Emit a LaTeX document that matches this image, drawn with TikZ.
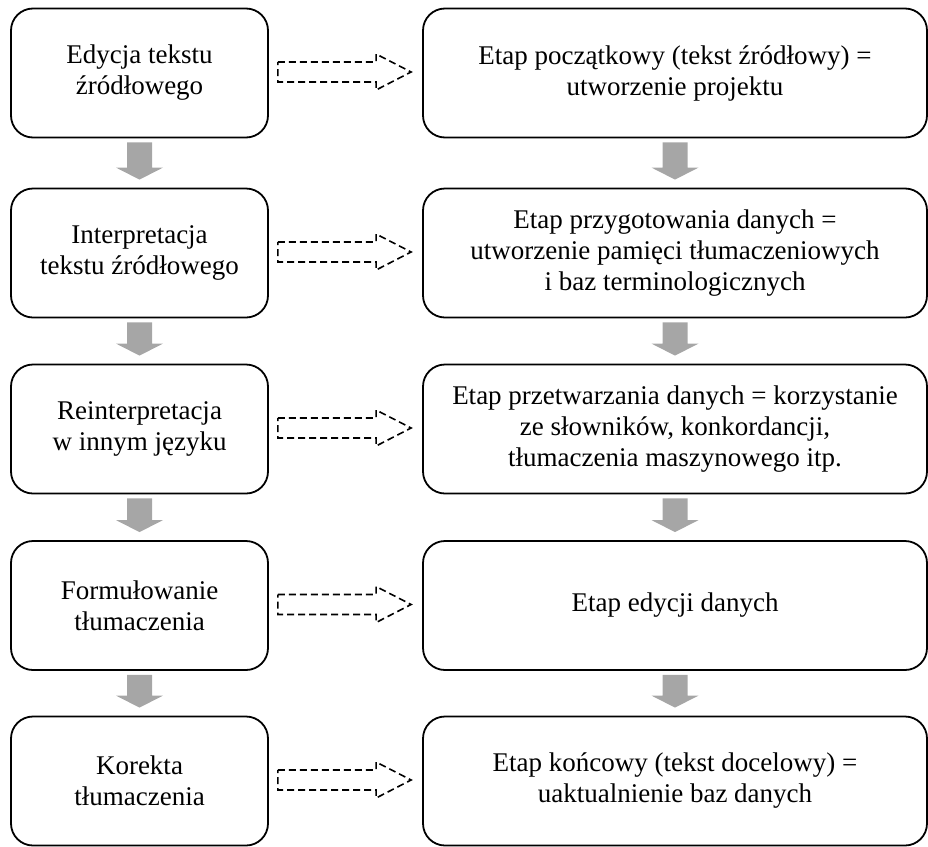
\documentclass[tikz,border=0pt]{standalone}
\usepackage{fontspec}
\setmainfont{Liberation Serif}
\usetikzlibrary{calc}
\definecolor{arrowgray}{HTML}{A6A6A6}
\tikzset{
  stagebox/.style={draw=black, line width=1.8pt, rounded corners=22pt, align=center,
    minimum height=129pt, inner sep=0pt, font=\fontsize{27}{31}\selectfont},
  leftbox/.style={stagebox, minimum width=257pt},
  rightbox/.style={stagebox, minimum width=504pt},
  grayarr/.style={fill=arrowgray, draw=none},
  dasharr/.style={draw=black, line width=1.6pt, dash pattern=on 7pt off 4pt}
}
\newcommand{\grayarrow}[2]{%
  \fill[grayarr] ($(#1.south)+(-12.5,4)$) -- ($(#1.south)+(12.5,4)$) --
    ($(#2.north)+(12.5,-20)$) -- ($(#2.north)+(23.5,-20)$) -- ($(#2.north)+(0,-8)$) --
    ($(#2.north)+(-23.5,-20)$) -- ($(#2.north)+(-12.5,-20)$) -- cycle;}
\newcommand{\dasharrow}[2]{%
  \draw[dasharr] ($(#1.east)+(9,-11)$) -- ($(#2.west)+(-46,-11)$) -- ($(#2.west)+(-46,-19)$) --
    ($(#2.west)+(-11,-1)$) -- ($(#2.west)+(-46,17)$) -- ($(#2.west)+(-46,9)$) --
    ($(#1.east)+(9,9)$) -- cycle;}
\begin{document}
\begin{tikzpicture}[x=1pt,y=-1pt]
\useasboundingbox (0,0) rectangle (928,846);
\node[leftbox] (l1) at (139.5,73) {Edycja tekstu\\źródłowego};
\node[leftbox] (l2) at (139.5,253) {Interpretacja\\tekstu źródłowego};
\node[leftbox] (l3) at (139.5,429) {Reinterpretacja\\w innym języku};
\node[leftbox] (l4) at (139.5,605.5) {Formułowanie\\tłumaczenia};
\node[leftbox] (l5) at (139.5,781) {Korekta\\tłumaczenia};
\node[rightbox] (r1) at (675,73) {Etap początkowy (tekst źródłowy) =\\utworzenie projektu};
\node[rightbox] (r2) at (675,253) {Etap przygotowania danych =\\utworzenie pamięci tłumaczeniowych\\i baz terminologicznych};
\node[rightbox] (r3) at (675,429) {Etap przetwarzania danych = korzystanie\\ze słowników, konkordancji,\\tłumaczenia maszynowego itp.};
\node[rightbox] (r4) at (675,605.5) {Etap edycji danych};
\node[rightbox] (r5) at (675,781) {Etap końcowy (tekst docelowy) =\\uaktualnienie baz danych};
\grayarrow{l1}{l2}
\grayarrow{l2}{l3}
\grayarrow{l3}{l4}
\grayarrow{l4}{l5}
\grayarrow{r1}{r2}
\grayarrow{r2}{r3}
\grayarrow{r3}{r4}
\grayarrow{r4}{r5}
\dasharrow{l1}{r1}
\dasharrow{l2}{r2}
\dasharrow{l3}{r3}
\dasharrow{l4}{r4}
\dasharrow{l5}{r5}
\end{tikzpicture}
\end{document}
